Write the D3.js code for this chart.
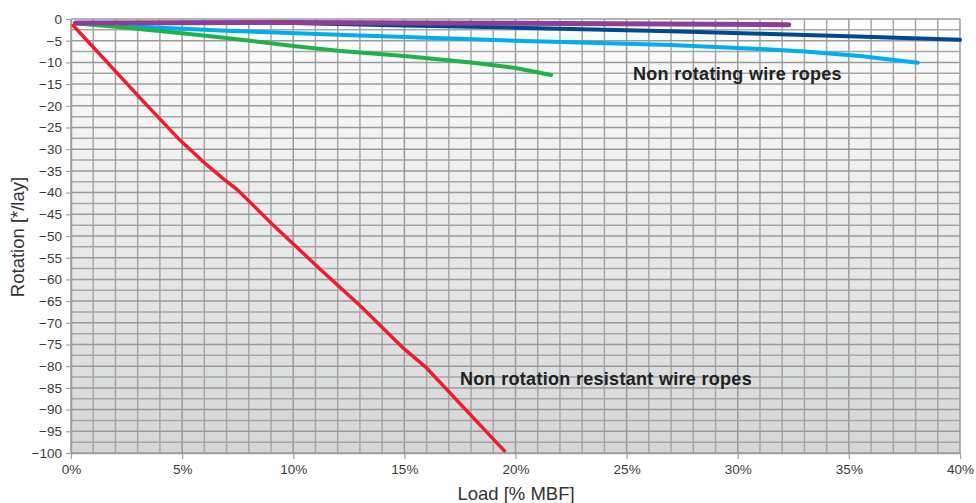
<!DOCTYPE html>
<html>
<head>
<meta charset="utf-8">
<script src="https://cdn.jsdelivr.net/npm/d3@7"></script>
<style>
	body { margin: 0; background: #fff; }
	svg text { font-family: "Liberation Sans", Arial, Helvetica, sans-serif; fill: #333; }
	.tick-label { font-size: 13.5px; fill: #3a3a3a; }
	.axis-title { font-size: 18.5px; }
	.note { font-size: 18px; font-weight: bold; fill: #222; letter-spacing: 0.3px; }
</style>
</head>
<body>
<svg id="chart" width="976" height="503"></svg>
<script>
// load in % of MBF, rotation in degrees per lay
var x_ticks = [0, 5, 10, 15, 20, 25, 30, 35, 40];
var y_ticks = [0, -5, -10, -15, -20, -25, -30, -35, -40, -45, -50, -55, -60, -65, -70, -75, -80, -85, -90, -95, -100];

var red_series = [[0.1,-1.5],[3.2,-18.7],[4.9,-27.9],[5.95,-32.9],[6.9,-37],[7.5,-39.4],[9,-47],[11.2,-57.6],[13,-66],[14.9,-75.6],[16,-80.4],[19.5,-99.5]];
var green_series = [[0.2,-1],[2.5,-2],[5,-3.3],[7,-4.4],[10,-6.2],[12,-7.3],[15,-8.5],[18,-10],[20,-11.3],[21.6,-12.9]];
var lightblue_series = [[0.2,-1],[4,-2],[7,-2.7],[13,-3.8],[20,-5],[27,-6],[31,-6.9],[33,-7.5],[35.5,-8.5],[38.1,-10.1]];
var darkblue_series = [[0.2,-0.9],[10,-0.9],[15,-1.5],[20,-2.0],[27,-2.8],[31,-3.4],[35,-4.0],[40,-4.8]];
var purple_series = [[0.2,-0.9],[10,-0.8],[20,-1.0],[32.3,-1.3]];

var series = [
	{data: darkblue_series, color: '#00498f', width: 4},
	{data: lightblue_series, color: '#00aeef', width: 4},
	{data: green_series, color: '#1fb24a', width: 4},
	{data: purple_series, color: '#8d3f98', width: 5},
	{data: red_series, color: '#ee1c2e', width: 3.5}
];

var margin = {left: 71, right: 16, top: 19, bottom: 50};
var width = 976, height = 503;

var svg = d3.select('#chart');
var sx = d3.scaleLinear().domain([0, 40]).range([margin.left, width - margin.right]);
var sy = d3.scaleLinear().domain([0, -100]).range([margin.top, height - margin.bottom]);

var defs = svg.append('defs');
var grad = defs.append('linearGradient').attr('id', 'bg').attr('x1', 0).attr('y1', 0).attr('x2', 0).attr('y2', 1);
grad.append('stop').attr('offset', '0%').attr('stop-color', '#fdfdfd');
grad.append('stop').attr('offset', '100%').attr('stop-color', '#d5d6d8');

svg.append('rect')
	.attr('x', sx(0)).attr('y', sy(0))
	.attr('width', sx(40) - sx(0)).attr('height', sy(-100) - sy(0))
	.attr('fill', 'url(#bg)');

// grid
var grid = svg.append('g').attr('class', 'grid');
grid.selectAll('.vline')
	.data(d3.range(0, 41))
	.enter().append('line')
	.attr('x1', function(d){ return sx(d); }).attr('x2', function(d){ return sx(d); })
	.attr('y1', sy(0)).attr('y2', sy(-100))
	.attr('stroke', function(d){ return d % 5 === 0 ? '#9a9a9a' : '#a6a6a6'; })
	.attr('stroke-width', 1.5);
grid.selectAll('.hline')
	.data(d3.range(0, 41).map(function(i){ return -2.5 * i; }))
	.enter().append('line')
	.attr('x1', sx(0)).attr('x2', sx(40))
	.attr('y1', function(d){ return sy(d); }).attr('y2', function(d){ return sy(d); })
	.attr('stroke', function(d){ return d % 5 === 0 ? '#9a9a9a' : '#a6a6a6'; })
	.attr('stroke-width', 1.5);

// axes
var xaxis = d3.axisBottom(sx).tickValues(x_ticks).tickSize(6).tickSizeOuter(0)
	.tickFormat(function(d){ return d + '%'; });
var yaxis = d3.axisLeft(sy).tickValues(y_ticks).tickSize(5).tickSizeOuter(0);

var xg = svg.append('g').attr('transform', 'translate(0,' + sy(-100) + ')').call(xaxis);
var yg = svg.append('g').attr('transform', 'translate(' + sx(0) + ',0)').call(yaxis);
[xg, yg].forEach(function(g){
	g.select('.domain').attr('stroke', '#a0a0a0').attr('stroke-width', 1.5);
	g.selectAll('.tick line').attr('stroke', '#a0a0a0').attr('stroke-width', 1.2);
	g.selectAll('.tick text').attr('class', 'tick-label').attr('font-family', null).attr('font-size', null);
});
xg.selectAll('.tick text').attr('y', 11);
yg.selectAll('.tick text').attr('x', -9);

svg.append('text').attr('class', 'axis-title')
	.attr('x', 516).attr('y', 500)
	.attr('text-anchor', 'middle')
	.text('Load [% MBF]');
svg.append('text').attr('class', 'axis-title')
	.attr('transform', 'translate(24,' + ((sy(0) + sy(-100)) / 2 + 1) + ') rotate(-90)')
	.attr('text-anchor', 'middle')
	.text('Rotation [*/lay]');

// lines
var line = d3.line()
	.x(function(d){ return sx(d[0]); })
	.y(function(d){ return sy(d[1]); });
svg.append('g').attr('class', 'lines')
	.selectAll('path').data(series).enter().append('path')
	.attr('d', function(s){ return line(s.data); })
	.attr('fill', 'none')
	.attr('stroke', function(s){ return s.color; })
	.attr('stroke-width', function(s){ return s.width; })
	.attr('stroke-linejoin', 'round')
	.attr('stroke-linecap', 'round');

svg.append('text').attr('class', 'note').attr('x', 633).attr('y', 80).text('Non rotating wire ropes');
svg.append('text').attr('class', 'note').attr('x', 460).attr('y', 385).text('Non rotation resistant wire ropes');
</script>
</body>
</html>
